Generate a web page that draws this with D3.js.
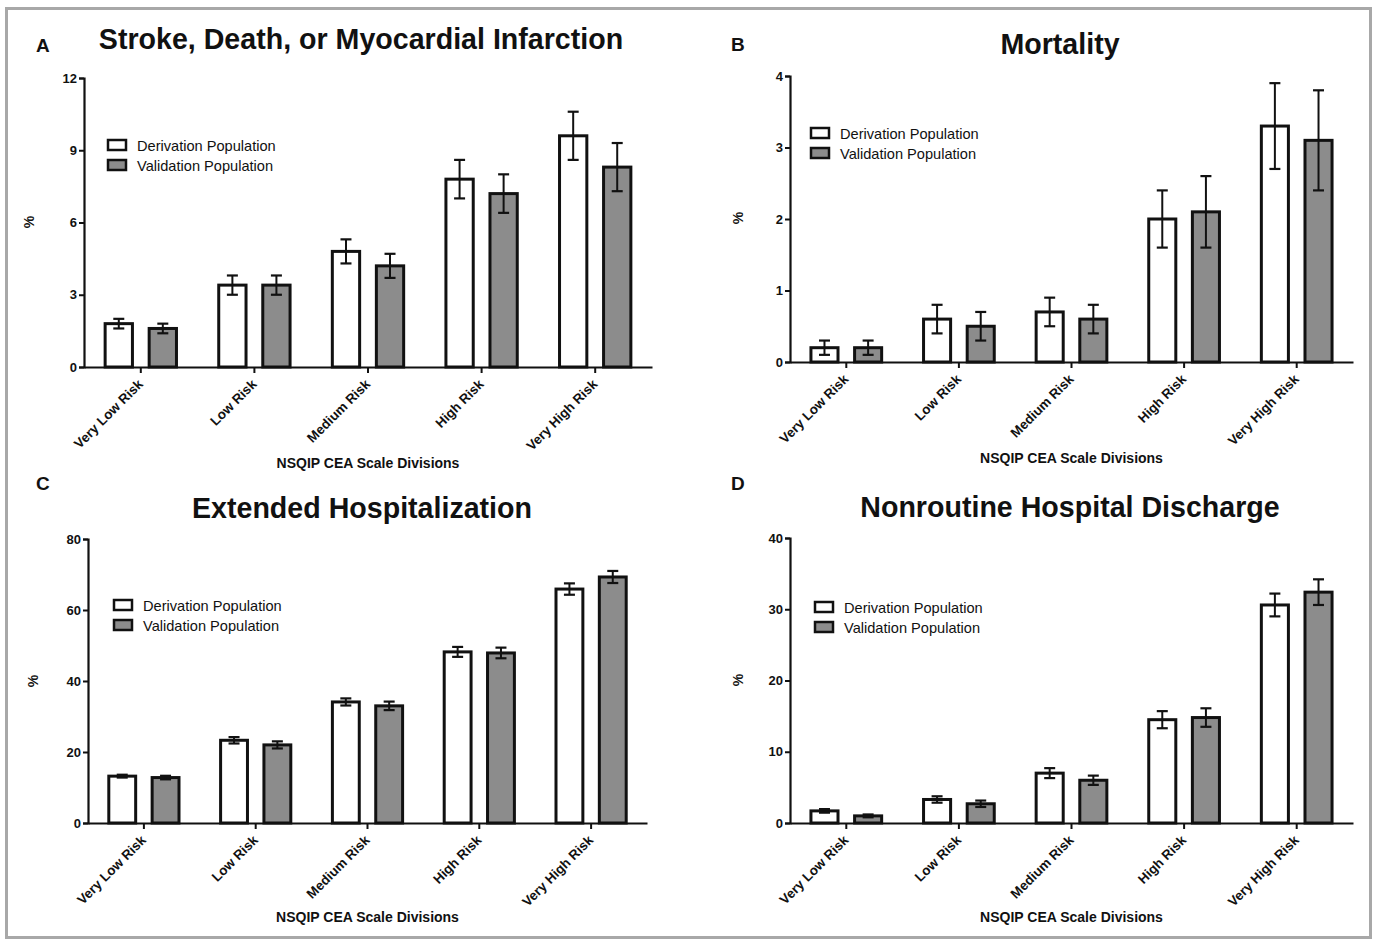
<!DOCTYPE html>
<html><head><meta charset="utf-8">
<script src="https://cdn.jsdelivr.net/npm/d3@7"></script>
<style>
html,body{margin:0;padding:0;background:#fff;}
svg{display:block;}
text{font-family:"Liberation Sans Narrow","Liberation Sans",Arial,sans-serif;fill:#111;}
</style></head>
<body><svg id="chart" width="1376" height="941"></svg>
<script>
// ---------- data ----------
const categories = ["Very Low Risk","Low Risk","Medium Risk","High Risk","Very High Risk"];
const seriesNames = ["Derivation Population","Validation Population"];
const xAxisTitle = "NSQIP CEA Scale Divisions";
const yAxisTitle = "%";

const panelLetters = ["A","B","C","D"];
const panelTitles = ["Stroke, Death, or Myocardial Infarction","Mortality","Extended Hospitalization","Nonroutine Hospital Discharge"];

const strokeTicks = [0,3,6,9,12];
const strokeDerivation = [1.8,3.4,4.8,7.8,9.6];
const strokeDerivationErr = [0.2,0.4,0.5,0.8,1.0];
const strokeValidation = [1.6,3.4,4.2,7.2,8.3];
const strokeValidationErr = [0.2,0.4,0.5,0.8,1.0];

const mortalityTicks = [0,1,2,3,4];
const mortalityDerivation = [0.2,0.6,0.7,2.0,3.3];
const mortalityDerivationErr = [0.1,0.2,0.2,0.4,0.6];
const mortalityValidation = [0.2,0.5,0.6,2.1,3.1];
const mortalityValidationErr = [0.1,0.2,0.2,0.5,0.7];

const extendedTicks = [0,20,40,60,80];
const extendedDerivation = [13.2,23.3,34.1,48.2,65.9];
const extendedDerivationErr = [0.4,0.9,1.0,1.4,1.6];
const extendedValidation = [12.8,22.0,33.0,47.9,69.3];
const extendedValidationErr = [0.5,1.0,1.2,1.5,1.7];

const dischargeTicks = [0,10,20,30,40];
const dischargeDerivation = [1.7,3.3,7.0,14.5,30.6];
const dischargeDerivationErr = [0.25,0.45,0.7,1.2,1.6];
const dischargeValidation = [1.0,2.7,6.0,14.8,32.4];
const dischargeValidationErr = [0.2,0.45,0.65,1.3,1.8];

// ---------- layout (positions only) ----------
const layouts = [
  {left:84, right:652, top:78, bottom:367, titleX:361, titleY:49, letterX:36, letterY:52, legX:108, legY:140, pctX:34, pctY:222, xtY:468},
  {left:790, right:1353, top:76, bottom:362, titleX:1060, titleY:54, letterX:731, letterY:51, legX:811, legY:128, pctX:743, pctY:218, xtY:463},
  {left:88, right:647, top:539, bottom:823, titleX:362, titleY:518, letterX:36, letterY:490, legX:114, legY:600, pctX:38, pctY:681, xtY:922},
  {left:790, right:1353, top:538, bottom:823, titleX:1070, titleY:517, letterX:731, letterY:490, legX:815, legY:602, pctX:743, pctY:680, xtY:922}
];

const panels = [
  {ticks:strokeTicks, series:[[strokeDerivation,strokeDerivationErr],[strokeValidation,strokeValidationErr]]},
  {ticks:mortalityTicks, series:[[mortalityDerivation,mortalityDerivationErr],[mortalityValidation,mortalityValidationErr]]},
  {ticks:extendedTicks, series:[[extendedDerivation,extendedDerivationErr],[extendedValidation,extendedValidationErr]]},
  {ticks:dischargeTicks, series:[[dischargeDerivation,dischargeDerivationErr],[dischargeValidation,dischargeValidationErr]]}
];

const fills = ["#ffffff","#8c8c8c"];

const svg = d3.select("#chart");
svg.append("rect").attr("x",0).attr("y",0).attr("width",1376).attr("height",941).attr("fill","#fff");
// frame
svg.append("rect").attr("x",6.5).attr("y",8.5).attr("width",1364).attr("height",929)
  .attr("fill","none").attr("stroke","#a8a8a8").attr("stroke-width",3);

panels.forEach((p,i)=>{
  const L = layouts[i];
  const g = svg.append("g");
  const y = d3.scaleLinear().domain([p.ticks[0], p.ticks[p.ticks.length-1]]).range([L.bottom, L.top]);
  const x0 = d3.scaleBand().domain(categories).range([L.left, L.right]).padding(0);
  const x1 = d3.scaleBand().domain(seriesNames).range([0, x0.bandwidth()]).paddingInner(0.38).paddingOuter(0.48);

  // letter & title
  g.append("text").attr("x",L.letterX).attr("y",L.letterY).attr("font-size",19).attr("font-weight","bold")
    .style("font-family","'Liberation Sans',Arial,sans-serif").text(panelLetters[i]);
  g.append("text").attr("x",L.titleX).attr("y",L.titleY).attr("text-anchor","middle")
    .attr("font-size",28.6).attr("font-weight","bold").text(panelTitles[i]);

  // bars
  categories.forEach((c,ci)=>{
    seriesNames.forEach((s,si)=>{
      const v = p.series[si][0][ci], e = p.series[si][1][ci];
      const bx = x0(c) + x1(s);
      const bw = x1.bandwidth();
      g.append("rect").attr("x",bx).attr("y",y(v)).attr("width",bw).attr("height",y(0)-y(v))
        .attr("fill",fills[si]).attr("stroke","#111").attr("stroke-width",3);
      const cx = bx + bw/2;
      const cap = 5.5;
      g.append("line").attr("x1",cx).attr("x2",cx).attr("y1",y(v-e)).attr("y2",y(v+e))
        .attr("stroke","#111").attr("stroke-width",2);
      [v-e, v+e].forEach(t=>{
        g.append("line").attr("x1",cx-cap).attr("x2",cx+cap).attr("y1",y(t)).attr("y2",y(t))
          .attr("stroke","#111").attr("stroke-width",2.2);
      });
    });
  });

  // y axis
  const ya = g.append("g").attr("transform",`translate(${L.left},0)`)
    .call(d3.axisLeft(y).tickValues(p.ticks).tickSize(5).tickPadding(2).tickFormat(d3.format("d")));
  ya.select(".domain").attr("stroke","#111").attr("stroke-width",2.2);
  ya.selectAll(".tick line").attr("stroke","#111").attr("stroke-width",2);
  ya.selectAll(".tick text").attr("font-size",13).attr("font-weight","bold")
    .style("font-family","'Liberation Sans',Arial,sans-serif").attr("fill","#111");

  // x axis
  const xa = g.append("g").attr("transform",`translate(0,${L.bottom})`)
    .call(d3.axisBottom(x0).tickSize(6).tickSizeOuter(0));
  xa.select(".domain").attr("stroke","#111").attr("stroke-width",2.2);
  xa.selectAll(".tick line").attr("stroke","#111").attr("stroke-width",2);
  xa.selectAll(".tick text").attr("font-size",13.4).attr("font-weight","bold")
    .style("font-family","'Liberation Sans',Arial,sans-serif").attr("fill","#111")
    .attr("text-anchor","end").attr("dy",0).attr("y",0)
    .attr("transform","translate(3,18) rotate(-45)");

  // axis titles
  g.append("text").attr("x",(L.left+L.right)/2).attr("y",L.xtY).attr("text-anchor","middle")
    .attr("font-size",14).attr("font-weight","bold").text(xAxisTitle);
  g.append("text").attr("transform",`translate(${L.pctX},${L.pctY}) rotate(-90)`).attr("text-anchor","middle")
    .attr("font-size",14).attr("font-weight","bold").text(yAxisTitle);

  // legend
  seriesNames.forEach((s,si)=>{
    const ly = L.legY + si*20;
    g.append("rect").attr("x",L.legX).attr("y",ly).attr("width",18).attr("height",10)
      .attr("fill",fills[si]).attr("stroke","#111").attr("stroke-width",2.5);
    g.append("text").attr("x",L.legX+29).attr("y",ly+10.5).attr("font-size",14.6).text(s);
  });
});
</script></body></html>
